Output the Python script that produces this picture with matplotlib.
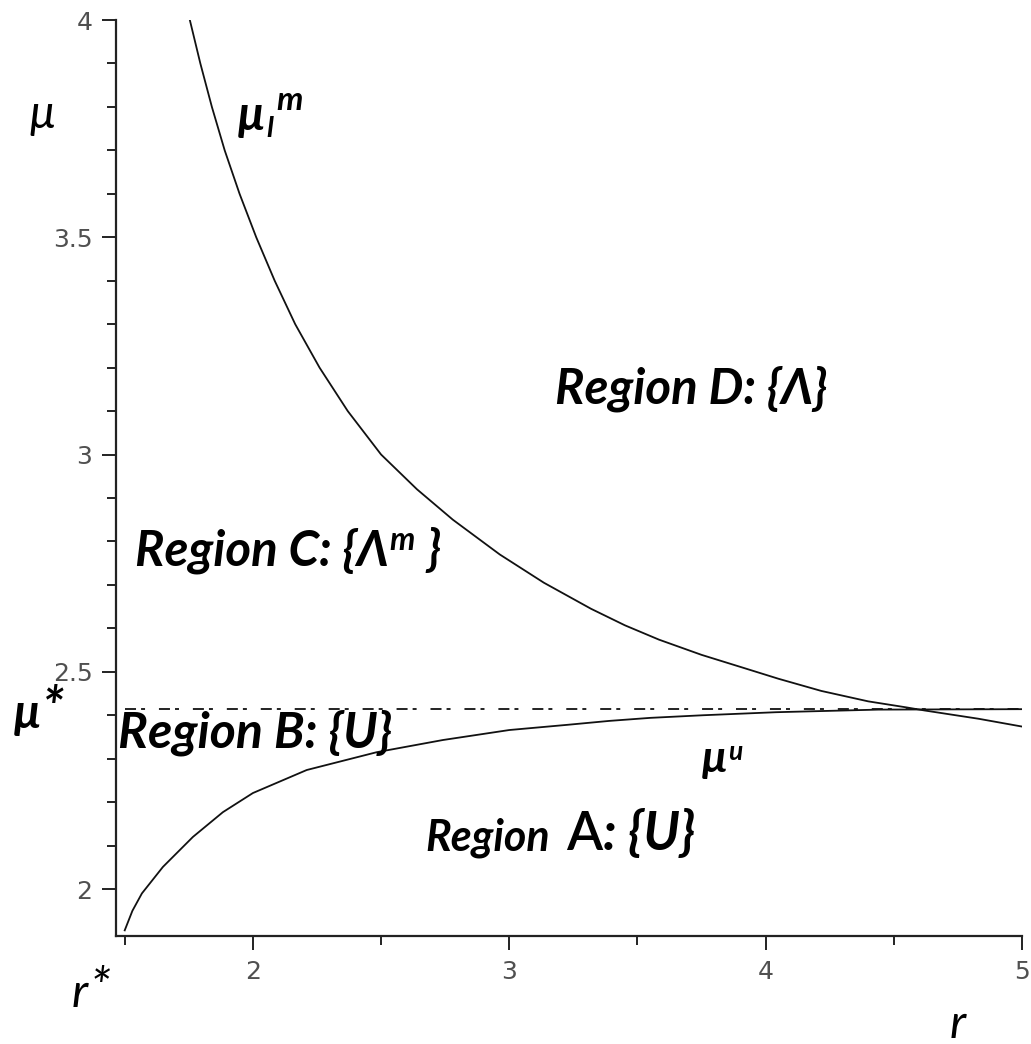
import matplotlib
matplotlib.use("Agg")
import matplotlib.pyplot as plt

# values
r_star = 1.5
mu_star = 2.414

# upper curve mu_l^m
r_upper = [1.754, 1.795, 1.840, 1.890, 1.948, 2.013, 2.085, 2.165, 2.26, 2.37, 2.50,
           2.64, 2.78, 2.963, 3.135, 3.319, 3.451, 3.584, 3.75, 3.914, 4.05, 4.217,
           4.40, 4.55, 4.62, 4.83, 5.0]
mu_upper = [4.0, 3.9, 3.8, 3.7, 3.6, 3.5, 3.4, 3.3, 3.2, 3.1, 3.0,
            2.92, 2.85, 2.77, 2.705, 2.645, 2.607, 2.574, 2.539, 2.509, 2.484, 2.456,
            2.432, 2.418, 2.411, 2.392, 2.374]

# lower curve mu^u
r_lower = [1.5, 1.53, 1.567, 1.649, 1.766, 1.883, 2.0, 2.21, 2.483, 2.741, 3.0, 3.227,
           3.39, 3.55, 3.755, 4.04, 4.44, 5.0]
mu_lower = [1.905, 1.95, 1.99, 2.051, 2.12, 2.177, 2.221, 2.274, 2.315, 2.343, 2.366, 2.378,
            2.387, 2.394, 2.400, 2.407, 2.413, 2.414]

x_major = [2, 3, 4, 5]
x_minor = [1.5, 2.5, 3.5, 4.5]
y_major = [2, 2.5, 3, 3.5, 4]
y_minor = [2.1, 2.2, 2.3, 2.4, 2.6, 2.7, 2.8, 2.9, 3.1, 3.2, 3.3, 3.4, 3.6, 3.7, 3.8, 3.9]

W, H = 1031, 1044
fig = plt.figure(figsize=(W / 100, H / 100), dpi=100)
ax = fig.add_axes([116 / W, 1 - 936 / H, 906 / W, 916 / H])

ax.plot(r_upper, mu_upper, color="#111111", lw=1.3)
ax.plot(r_lower, mu_lower, color="#111111", lw=1.3)
ax.plot([r_star, 5.0], [mu_star, mu_star], color="#111111", lw=1.3,
        linestyle=(0, (6.1, 2.8, 2.2, 7.7)))

ax.set_xlim(1.466, 5.0)
ax.set_ylim(1.892, 4.0)
for s in ["top", "right"]:
    ax.spines[s].set_visible(False)
for s in ["left", "bottom"]:
    ax.spines[s].set_linewidth(1.6)
    ax.spines[s].set_color("#222222")

ax.set_xticks(x_major)
ax.set_xticks(x_minor, minor=True)
ax.set_yticks(y_major)
ax.set_yticks(y_minor, minor=True)
ax.set_xticklabels([str(v) for v in x_major])
ax.set_yticklabels(["2", "2.5", "3", "3.5", "4"])
ax.tick_params(which="major", length=10, width=1.4, color="#222222", pad=7,
               labelsize=18, labelcolor="#505050")
ax.tick_params(which="minor", length=6.5, width=1.4, color="#222222")
for lab in ax.get_xticklabels() + ax.get_yticklabels():
    lab.set_family("DejaVu Sans")

fam = ["Lato", "Open Sans", "DejaVu Sans"]
renderer = fig.canvas.get_renderer()


def chain(x, y, pieces):
    # pieces: (text, size, raise_px, weight, style, gap_px); x, y = left/baseline in pixels
    for s, size, dy, weight, style, gap in pieces:
        t = fig.text((x + gap) / W, 1 - (y - dy) / H, s, fontsize=size, fontweight=weight,
                     fontstyle=style, family=fam, va="baseline", ha="left")
        x = t.get_window_extent(renderer).x1
    return x


B, I, N = "bold", "italic", "normal"
chain(555, 403, [("Region D: {Λ}", 35.5, 0, B, I, 0)])
chain(135, 565, [("Region C: {Λ", 35.5, 0, B, I, 0), ("m", 23, 15, B, I, 1),
                 ("}", 35.5, 0, B, I, 11)])
chain(118, 747, [("Region B: {U}", 36, 0, B, I, 0)])
chain(425, 850, [("Region", 31, 0, B, I, 0), ("A", 38, 0, "semibold", N, 16),
                 (": {U}", 38, 0, B, I, 1)])

chain(30, 128, [("μ", 33, 0, N, I, 0)])
chain(238, 130, [("μ", 34, 0, B, I, 0), ("l", 21, -7, B, I, 2)])
chain(276, 110, [("m", 24, 0, B, I, 0)])
chain(14, 728, [("μ", 34, 0, B, I, 0), ("*", 40, 2, B, I, 1)])
chain(702, 772, [("μ", 32, 0, B, I, 0), ("u", 19, 12, B, I, 1)])
chain(72, 1007, [("r", 34, 0, N, I, 0), ("*", 38, 2, N, I, 1)])
chain(950, 1038, [("r", 34, 0, N, I, 0)])

fig.savefig("out.png", dpi=100)
